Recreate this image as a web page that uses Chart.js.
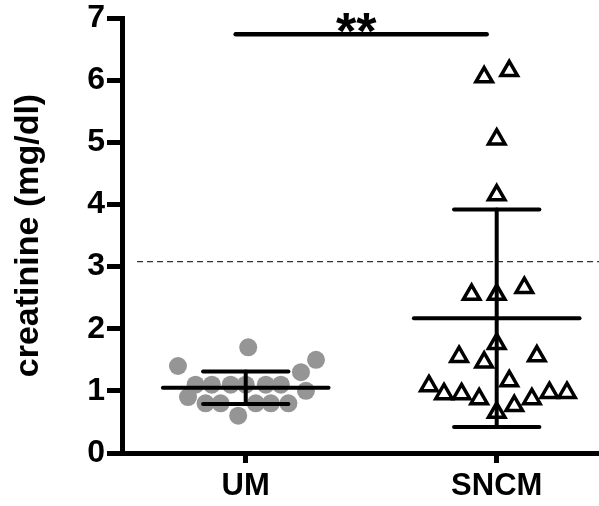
<!DOCTYPE html>
<html>
<head>
<meta charset="utf-8">
<script src="https://cdn.jsdelivr.net/npm/chart.js@4.4.1/dist/chart.umd.min.js"></script>
<style>
  html, body { margin: 0; padding: 0; background: #fff; }
</style>
</head>
<body>
<canvas id="creatChart" width="599" height="506"></canvas>
<script>
// groups on the x axis (placed at 1 and 2)
const groups = ['UM', 'SNCM'];

// creatinine values (mg/dl) and horizontal scatter offsets
const umValues = [1.7, 1.4, 1.5, 1.3, 1.1, 1.1, 1.1, 1.1, 1.1, 1.1, 1.0, 0.9, 0.8, 0.8, 0.8, 0.8, 0.8, 0.6];
const umJitter = [0.01, -0.27, 0.28, 0.22, -0.20, -0.135, -0.06, 0.0, 0.08, 0.14, 0.24, -0.23, -0.16, -0.10, 0.04, 0.10, 0.17, -0.03];

const sncmValues = [6.05, 6.15, 5.05, 4.15, 2.55, 2.55, 2.66, 1.76, 1.55, 1.46, 1.56, 1.16, 1.08, 0.95, 0.95, 0.87, 0.76, 0.87, 0.97, 0.97, 0.65];
const sncmJitter = [-0.05, 0.05, 0.0, 0.0, -0.10, 0.0, 0.11, 0.0, -0.15, -0.05, 0.16, 0.05, -0.27, -0.21, -0.14, -0.07, 0.07, 0.14, 0.21, 0.28, 0.0];

// mean and SD shown by the bars
const groupMeans = [1.05, 2.17];
const groupSDs = [0.26, 1.75];

// dashed cutoff line and significance bar
const cutoffValue = 3.08;
const sigValue = 6.74;
const sigLabel = '**';

const yTicks = [0, 1, 2, 3, 4, 5, 6, 7];

const X_MIN = 0.507, X_MAX = 2.4076;
const MEAN_HALF = 0.33, CAP_HALF = 0.17;
const FONT = '"Liberation Sans", Arial, Helvetica, sans-serif';

function lineSet(points, width, dash, color) {
  return {
    type: 'line',
    data: points,
    borderColor: color || '#000',
    borderWidth: width,
    borderDash: dash || [],
    pointRadius: 0,
    fill: false,
    showLine: true,
    tension: 0,
    borderCapStyle: 'round',
    order: 0,
    clip: false
  };
}

const datasets = [];

// mean +/- SD bars for both groups
groups.forEach(function (g, i) {
  const cx = i + 1;
  const m = groupMeans[i], sd = groupSDs[i];
  datasets.push(lineSet([{ x: cx - MEAN_HALF, y: m }, { x: cx + MEAN_HALF, y: m }], 4));
  datasets.push(lineSet([{ x: cx - CAP_HALF, y: m + sd }, { x: cx + CAP_HALF, y: m + sd }], 4));
  datasets.push(lineSet([{ x: cx - CAP_HALF, y: m - sd }, { x: cx + CAP_HALF, y: m - sd }], 4));
  datasets.push(lineSet([{ x: cx, y: m - sd }, { x: cx, y: m + sd }], 4));
});

// cutoff
const cut = lineSet([{ x: 0.567, y: cutoffValue }, { x: X_MAX, y: cutoffValue }], 1.3, [6, 4], '#333');
cut.borderCapStyle = 'butt';
datasets.push(cut);

// significance bar
datasets.push(lineSet([{ x: 0.96, y: sigValue }, { x: 1.96, y: sigValue }], 4.5));

// points
datasets.push({
  type: 'scatter',
  data: umValues.map(function (v, i) { return { x: 1 + umJitter[i], y: v }; }),
  pointStyle: 'circle',
  pointRadius: 9,
  backgroundColor: '#959595',
  borderWidth: 0,
  order: 2
});
datasets.push({
  type: 'scatter',
  data: sncmValues.map(function (v, i) { return { x: 2 + sncmJitter[i], y: v }; }),
  pointStyle: 'triangle',
  pointRadius: 9.5,
  backgroundColor: 'rgba(0,0,0,0)',
  borderColor: '#000',
  borderWidth: 3.5,
  order: 1
});

// draws the ** over the significance bar
const sigText = {
  id: 'sigText',
  afterDatasetsDraw: function (chart) {
    const ctx = chart.ctx;
    const x = chart.scales.x.getPixelForValue(1.44);
    const y = chart.scales.y.getPixelForValue(sigValue);
    ctx.save();
    ctx.fillStyle = '#000';
    ctx.font = 'bold 52px ' + FONT;
    ctx.textAlign = 'center';
    ctx.textBaseline = 'alphabetic';
    ctx.fillText(sigLabel, x, y + 15);
    ctx.restore();
  }
};

const ctx = document.getElementById('creatChart').getContext('2d');
const chart = new Chart(ctx, {
  type: 'scatter',
  data: { datasets: datasets },
  plugins: [sigText],
  options: {
    responsive: false,
    animation: false,
    devicePixelRatio: 1,
    layout: { autoPadding: false, padding: { top: 18, right: 0, left: 0, bottom: 0 } },
    plugins: { legend: { display: false }, tooltip: { enabled: false } },
    scales: {
      x: {
        type: 'linear',
        min: X_MIN,
        max: X_MAX,
        afterBuildTicks: function (axis) {
          axis.ticks = groups.map(function (g, i) { return { value: i + 1 }; });
        },
        afterFit: function (scale) {
          scale.height = 53;
          scale.paddingLeft = 0;
          scale.paddingRight = 0;
        },
        ticks: {
          autoSkip: false,
          maxRotation: 0,
          color: '#000',
          padding: 5,
          font: { family: FONT, size: 31, weight: 'bold' },
          callback: function (v) { return groups[Math.round(v) - 1]; }
        },
        grid: {
          drawOnChartArea: false,
          color: '#000',
          tickLength: 10,
          tickWidth: 5
        },
        border: { display: true, color: '#000', width: 5 }
      },
      y: {
        min: 0,
        max: 7,
        afterBuildTicks: function (axis) {
          axis.ticks = yTicks.map(function (v) { return { value: v }; });
        },
        afterFit: function (scale) {
          scale.width = 122;
          scale.paddingTop = 0;
          scale.paddingBottom = 0;
        },
        ticks: {
          color: '#000',
          padding: 2,
          font: { family: FONT, size: 32, weight: 'bold', lineHeight: 1 }
        },
        grid: {
          drawOnChartArea: false,
          color: '#000',
          tickLength: 15,
          tickWidth: 5
        },
        border: { display: true, color: '#000', width: 5 },
        title: {
          display: true,
          text: 'creatinine (mg/dl)',
          color: '#000',
          padding: { top: 8, bottom: 0 },
          font: { family: FONT, size: 34, weight: 'bold' }
        }
      }
    }
  }
});
</script>
</body>
</html>
